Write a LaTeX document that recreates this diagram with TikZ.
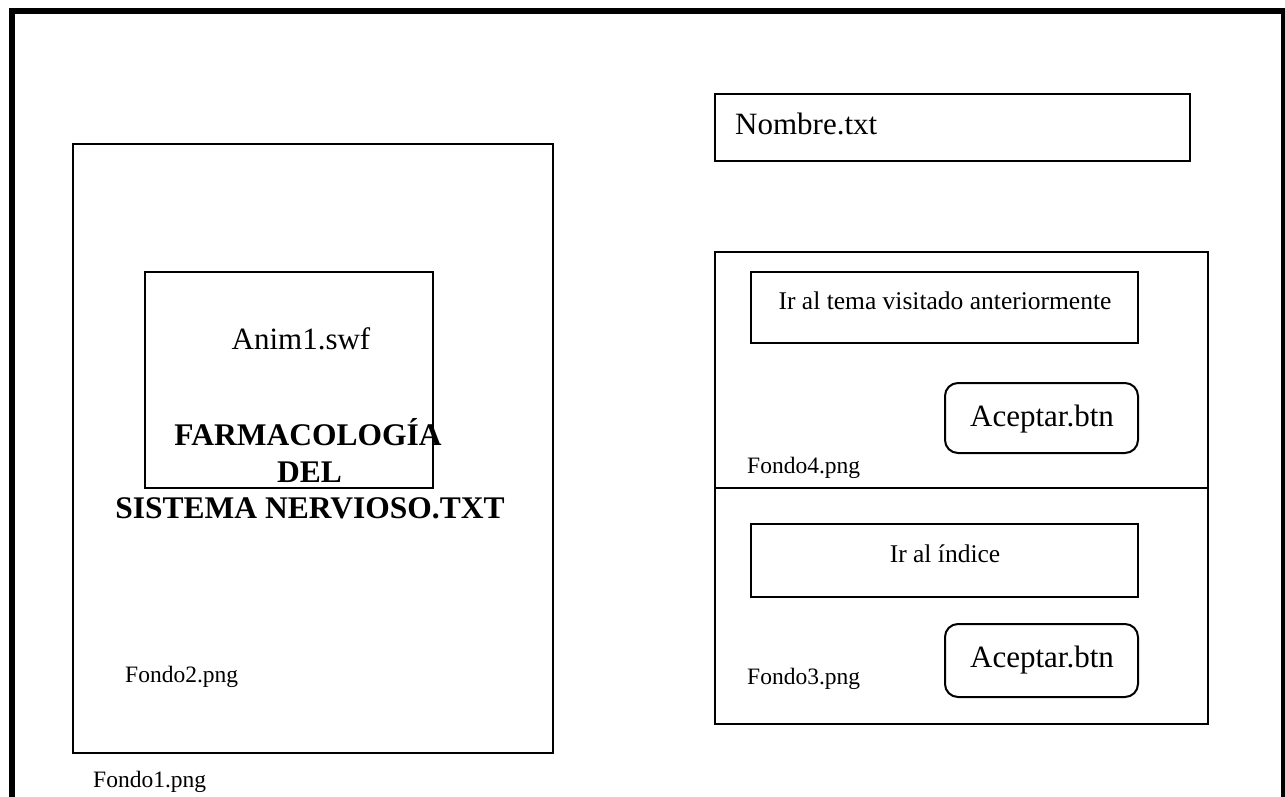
\documentclass[tikz,border=0pt]{standalone}
\usepackage{fontspec}
\setmainfont{Liberation Serif}
\begin{document}
\begin{tikzpicture}[x=1pt,y=-1pt,
  frame/.style={draw=black,line width=6pt},
  panel/.style={draw=black,line width=2pt},
  btnbox/.style={draw=black,line width=2pt,rounded corners=13pt},
  bigtxt/.style={font=\fontsize{31}{36}\selectfont,inner sep=0pt},
  midtxt/.style={font=\fontsize{25.5}{30}\selectfont,inner sep=0pt},
  smalltxt/.style={font=\fontsize{23.5}{28}\selectfont,inner sep=0pt},
  titletxt/.style={font=\fontsize{31.5}{36.5}\selectfont\bfseries,inner sep=0pt,align=center}]
\useasboundingbox (0,0) rectangle (1285,797);
\clip (0,0) rectangle (1285,797);
\fill[white] (0,0) rectangle (1285,797);

% page frame (runs off the bottom edge)
\draw[frame] (12,11.5) rectangle (1284,820);

% left column: background panel with the animation area
\draw[panel] (73,144) rectangle (553,753);
\draw[panel] (145,272) rectangle (433,488);
\node[bigtxt,anchor=base] (anim) at (301,349) {Anim1.swf};
\node[titletxt,anchor=base] (tit1) at (308,445) {FARMACOLOGÍA};
\node[titletxt,anchor=base] (tit2) at (309.5,482) {DEL};
\node[titletxt,anchor=base] (tit3) at (310,518) {SISTEMA NERVIOSO.TXT};
\node[smalltxt,anchor=base west] (f2) at (125,682) {Fondo2.png};
\node[smalltxt,anchor=base west] (f1) at (93,787) {Fondo1.png};

% right column: name field
\draw[panel] (715,94) rectangle (1190,161);
\node[bigtxt,anchor=base west] (nombre) at (735,135) {Nombre.txt};

% right column: two dialogs
\draw[panel] (715,252) rectangle (1208,488);
\draw[panel] (715,488) rectangle (1208,724);

\draw[panel] (751,272) rectangle (1138,343);
\node[midtxt,anchor=base] (prev) at (945,309) {Ir al tema visitado anteriormente};
\draw[btnbox] (945,383) rectangle (1138,453);
\node[bigtxt,anchor=base] (ok1) at (1042,426) {Aceptar.btn};
\node[smalltxt,anchor=base west] (f4) at (747,473) {Fondo4.png};

\draw[panel] (751,524) rectangle (1138,597);
\node[midtxt,anchor=base] (idx) at (945,562) {Ir al índice};
\draw[btnbox] (945,624) rectangle (1138,697);
\node[bigtxt,anchor=base] (ok2) at (1042,667) {Aceptar.btn};
\node[smalltxt,anchor=base west] (f3) at (747,684) {Fondo3.png};
\end{tikzpicture}
\end{document}
